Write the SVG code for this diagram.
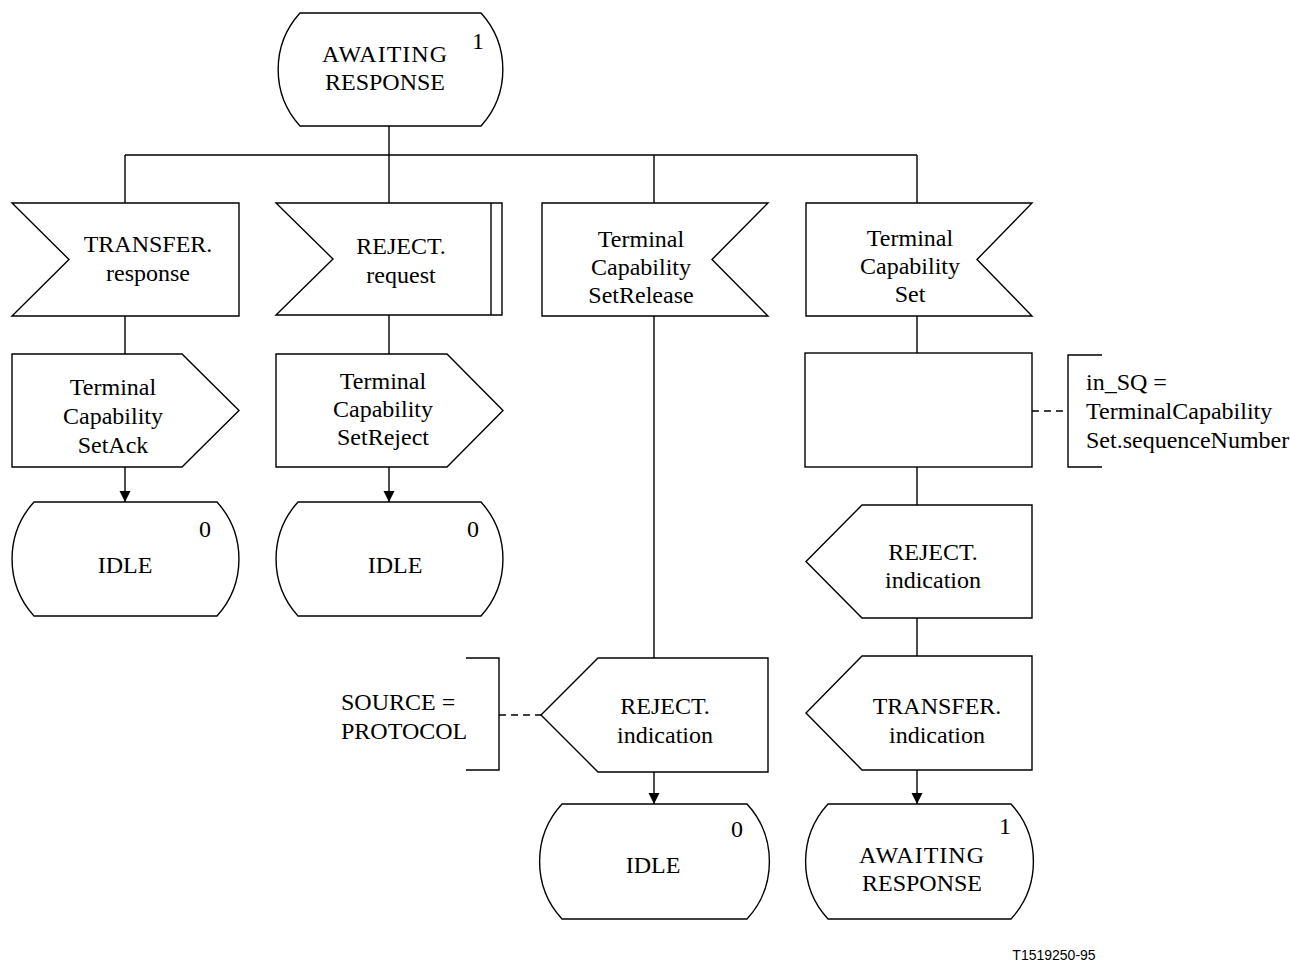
<svg xmlns="http://www.w3.org/2000/svg" width="1290" height="962" viewBox="0 0 1290 962">
<style>
.s{fill:#fff;stroke:#000;stroke-width:1.4}
.c{fill:none;stroke:#000;stroke-width:1.4}
.d{fill:none;stroke:#000;stroke-width:1.5;stroke-dasharray:7,5}
text{font-family:"Liberation Serif","Times New Roman",serif;font-size:24px;fill:#000}
.m{text-anchor:middle}
.f{font-family:"Liberation Sans",Arial,sans-serif;font-size:14px}
</style>
<defs>
<marker id="arr" markerWidth="12" markerHeight="12" refX="11" refY="5.5" orient="auto" markerUnits="userSpaceOnUse">
<path d="M0,0 L11,5.5 L0,11 Z" fill="#000"/>
</marker>
</defs>
<rect width="1290" height="962" fill="#fff"/>
<g id="connectors">
<path class="c" d="M389,126 V155 M125,155 H917 M125,155 V203 M389,155 V203 M654,155 V203 M917,155 V203"/>
<path class="c" d="M125,316 V354 M389,315 V354 M654,316 V658 M917,316 V353 M917,467 V505 M917,618 V656"/>
<path class="c" d="M125,467 V502" marker-end="url(#arr)"/>
<path class="c" d="M389,467 V502" marker-end="url(#arr)"/>
<path class="c" d="M654,772 V804" marker-end="url(#arr)"/>
<path class="c" d="M917,770 V804" marker-end="url(#arr)"/>
<path class="d" d="M1032,411 H1068"/>
<path class="d" d="M499,715 H541"/>
</g>
<g id="state_awaiting_top">
<path class="s" d="M300,13 H481 A84,84 0 0 1 481,126 H300 A84,84 0 0 1 300,13 Z"/>
<text class="m" x="385" y="62" letter-spacing="1">AWAITING</text>
<text class="m" x="385" y="90">RESPONSE</text>
<text class="m" x="478" y="49">1</text>
</g>
<g id="in_transfer_response">
<polygon class="s" points="12,203 239,203 239,316 12,316 69,259.5"/>
<text class="m" x="148" y="252">TRANSFER.</text>
<text class="m" x="148" y="281">response</text>
</g>
<g id="in_reject_request">
<polygon class="s" points="276,203 502,203 502,315 276,315 333,259"/>
<path class="c" d="M491,203 V315"/>
<text class="m" x="401" y="254">REJECT.</text>
<text class="m" x="401" y="283">request</text>
</g>
<g id="in_tcs_release">
<polygon class="s" points="542,203 768,203 712,259.5 768,316 542,316"/>
<text class="m" x="641" y="247">Terminal</text>
<text class="m" x="641" y="275">Capability</text>
<text class="m" x="641" y="303">SetRelease</text>
</g>
<g id="in_tcs">
<polygon class="s" points="806,203 1032,203 977,259.5 1032,316 806,316"/>
<text class="m" x="910" y="246">Terminal</text>
<text class="m" x="910" y="274">Capability</text>
<text class="m" x="910" y="302">Set</text>
</g>
<g id="out_tcs_ack">
<polygon class="s" points="12,354 182,354 239,410.5 182,467 12,467"/>
<text class="m" x="113" y="395">Terminal</text>
<text class="m" x="113" y="424">Capability</text>
<text class="m" x="113" y="453">SetAck</text>
</g>
<g id="out_tcs_reject">
<polygon class="s" points="276,354 447,354 503,410.5 447,467 276,467"/>
<text class="m" x="383" y="389">Terminal</text>
<text class="m" x="383" y="417">Capability</text>
<text class="m" x="383" y="445">SetReject</text>
</g>
<g id="state_idle_1">
<path class="s" d="M34,502 H217 A85,85 0 0 1 217,616 H34 A85,85 0 0 1 34,502 Z"/>
<text class="m" x="125" y="573">IDLE</text>
<text class="m" x="205" y="537">0</text>
</g>
<g id="state_idle_2">
<path class="s" d="M298,502 H481 A85,85 0 0 1 481,616 H298 A85,85 0 0 1 298,502 Z"/>
<text class="m" x="395" y="573">IDLE</text>
<text class="m" x="473" y="537">0</text>
</g>
<g id="task_set_sq">
<rect class="s" x="805" y="353" width="227" height="114"/>
</g>
<g id="comment_in_sq">
<path class="c" d="M1102,355 H1068 V467 H1102"/>
<text x="1086" y="390">in_SQ =</text>
<text x="1086" y="419">TerminalCapability</text>
<text x="1086" y="448">Set.sequenceNumber</text>
</g>
<g id="out_reject_indication_right">
<polygon class="s" points="862,505 1032,505 1032,618 862,618 806,561.5"/>
<text class="m" x="933" y="560">REJECT.</text>
<text class="m" x="933" y="588">indication</text>
</g>
<g id="out_transfer_indication">
<polygon class="s" points="862,656 1032,656 1032,770 862,770 806,713"/>
<text class="m" x="937" y="714">TRANSFER.</text>
<text class="m" x="937" y="743">indication</text>
</g>
<g id="state_awaiting_bottom">
<path class="s" d="M828,804 H1011 A85,85 0 0 1 1011,919 H828 A85,85 0 0 1 828,804 Z"/>
<text class="m" x="922" y="863" letter-spacing="1">AWAITING</text>
<text class="m" x="922" y="891">RESPONSE</text>
<text class="m" x="1005" y="834">1</text>
</g>
<g id="out_reject_indication_mid">
<polygon class="s" points="598,658 768,658 768,772 598,772 541,715"/>
<text class="m" x="665" y="714">REJECT.</text>
<text class="m" x="665" y="743">indication</text>
</g>
<g id="comment_source">
<path class="c" d="M466,658 H499 V770 H466"/>
<text x="341" y="710">SOURCE =</text>
<text x="341" y="739">PROTOCOL</text>
</g>
<g id="state_idle_3">
<path class="s" d="M562,804 H747 A85,85 0 0 1 747,919 H562 A85,85 0 0 1 562,804 Z"/>
<text class="m" x="653" y="873">IDLE</text>
<text class="m" x="737" y="837">0</text>
</g>
<text class="f m" x="1054" y="960">T1519250-95</text>
</svg>
